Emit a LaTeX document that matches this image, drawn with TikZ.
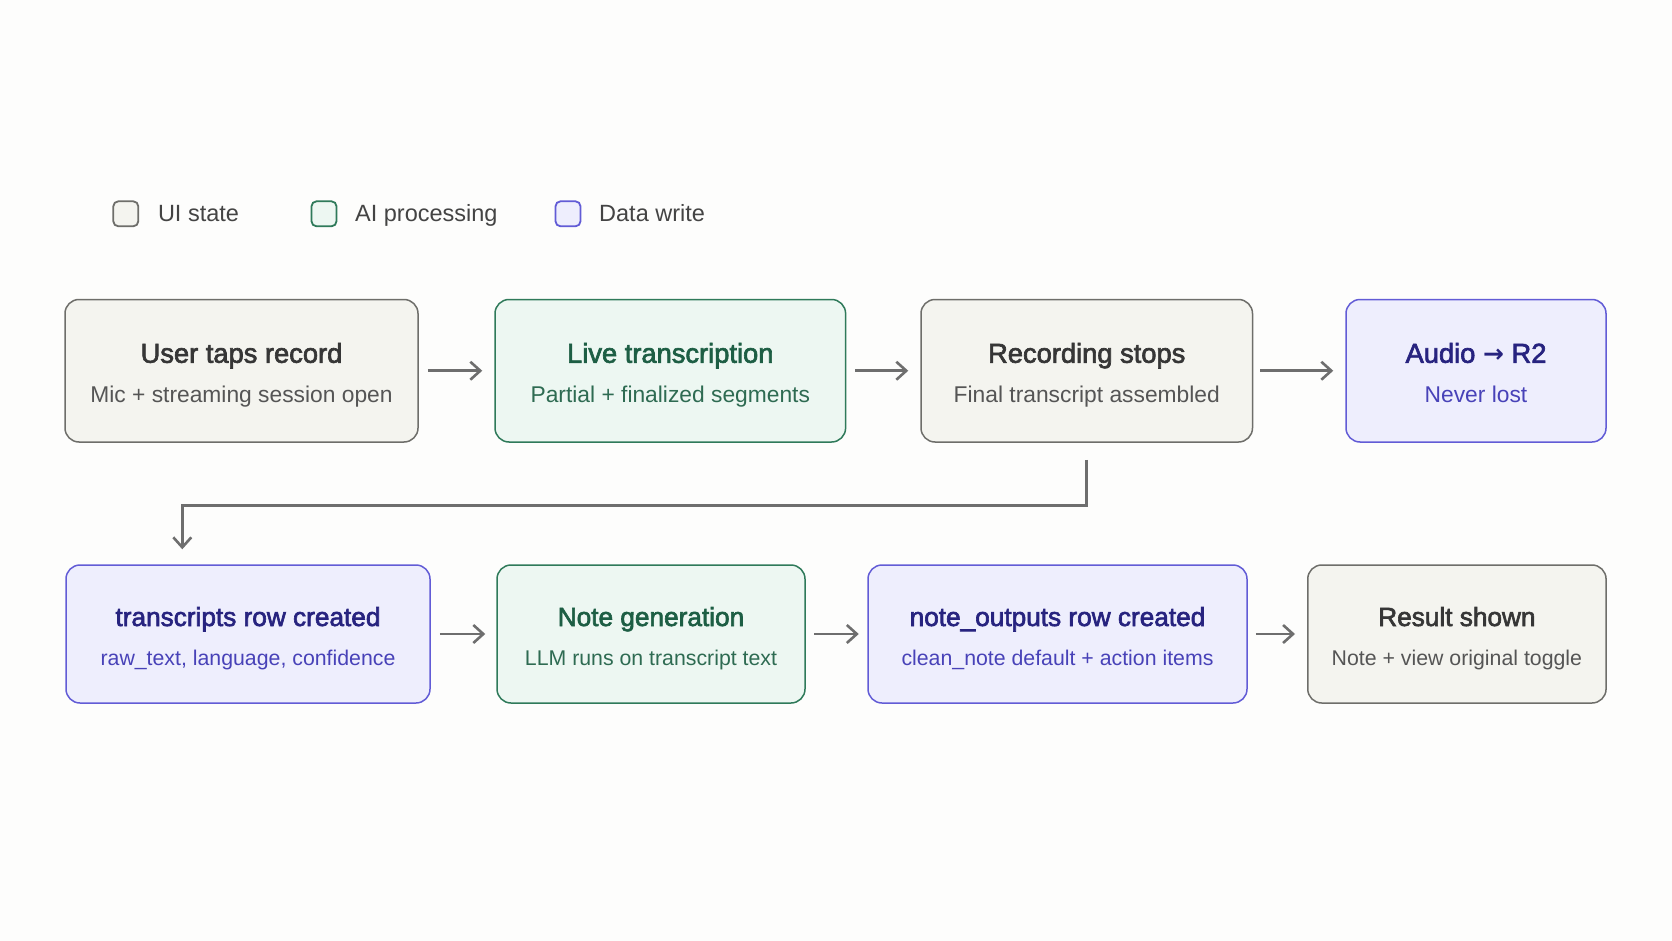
\documentclass[tikz,border=0pt]{standalone}
\usepackage{fontspec}
\setmainfont{Liberation Sans}
\newfontfamily\semib{Liberation Sans}[FakeBold=2.4]
\newfontfamily\arrowfont{DejaVu Sans}
\usetikzlibrary{arrows.meta,calc}
\definecolor{bgc}{HTML}{FDFDFC}
\definecolor{uiF}{HTML}{F4F4EF}
\definecolor{uiL}{HTML}{6E6E6A}
\definecolor{uiT}{HTML}{363636}
\definecolor{uiS}{HTML}{555555}
\definecolor{aiF}{HTML}{EDF7F2}
\definecolor{aiL}{HTML}{2F7A5A}
\definecolor{aiT}{HTML}{1D5E44}
\definecolor{aiS}{HTML}{2E6B52}
\definecolor{dwF}{HTML}{EEEEFD}
\definecolor{dwL}{HTML}{625CD6}
\definecolor{dwT}{HTML}{27237F}
\definecolor{dwS}{HTML}{4842B8}
\definecolor{arrc}{HTML}{6E6E6E}
\definecolor{legT}{HTML}{444444}
\newcommand\flowbox[9]{%
  \node[#2box, minimum width=#5, minimum height=#6] (#1) at (#3,#4) {};
  \node[#2ttl, #9ttl] (#1t) at ($(#1.center)+(0,-8)$) {#7};
  \node[#2sub, #9sub] (#1s) at ($(#1.center)+(0,31.5)$) {#8};
}
\begin{document}
\begin{tikzpicture}[x=1pt,y=-1pt,
  box/.style={draw, rounded corners=14pt, line width=1.5pt, inner sep=0pt},
  uibox/.style={box, fill=uiF, draw=uiL},
  aibox/.style={box, fill=aiF, draw=aiL},
  dwbox/.style={box, fill=dwF, draw=dwL},
  ttl/.style={anchor=base, inner sep=0pt},
  sub/.style={anchor=base, inner sep=0pt},
  rowAttl/.style={font=\fontsize{27.3}{30}\selectfont\semib},
  rowAsub/.style={font=\fontsize{22.8}{26}\selectfont},
  rowBttl/.style={font=\fontsize{26.2}{30}\selectfont\semib},
  rowBsub/.style={font=\fontsize{21.3}{26}\selectfont},
  uittl/.style={ttl, text=uiT}, uisub/.style={sub, text=uiS},
  aittl/.style={ttl, text=aiT}, aisub/.style={sub, text=aiS},
  dwttl/.style={ttl, text=dwT}, dwsub/.style={sub, text=dwS},
  legsq/.style={draw, minimum size=25pt, inner sep=0pt, rounded corners=5pt, line width=1.8pt},
  legtxt/.style={anchor=base west, inner sep=0pt, text=legT, font=\fontsize{23.5}{28}\selectfont},
  arr/.style={draw=arrc, line width=2.6pt, -{Straight Barb[length=10pt,width=18pt]}},
  ]
\useasboundingbox[fill=bgc] (0,0) rectangle (1672,941);

% legend
\node[legsq, fill=uiF, draw=uiL] (lui) at (125.8,213.8) {};
\node[legtxt] (luit) at (157.8,222) {UI state};
\node[legsq, fill=aiF, draw=aiL] (lai) at (324,213.8) {};
\node[legtxt] (lait) at (355,222) {AI processing};
\node[legsq, fill=dwF, draw=dwL] (ldw) at (568,213.8) {};
\node[legtxt] (ldwt) at (599,222) {Data write};

% row 1
\flowbox{b1}{ui}{241.5}{370.75}{353}{142.5}{User taps record}{Mic + streaming session open}{rowA}
\flowbox{b2}{ai}{670.3}{370.75}{350.6}{142.5}{Live transcription}{Partial + finalized segments}{rowA}
\flowbox{b3}{ui}{1086.75}{370.75}{331.5}{142.5}{Recording stops}{Final transcript assembled}{rowA}
\flowbox{b4}{dw}{1476}{370.75}{260}{142.5}{Audio {\arrowfont\bfseries\fontsize{25}{26}\selectfont→} R2}{Never lost}{rowA}

% row 2
\flowbox{b5}{dw}{248}{634}{364}{138}{transcripts row created}{raw\_text, language, confidence}{rowB}
\flowbox{b6}{ai}{651}{634}{308}{138}{Note generation}{LLM runs on transcript text}{rowB}
\flowbox{b7}{dw}{1057.5}{634}{379}{138}{note\_outputs row created}{clean\_note default + action items}{rowB}
\flowbox{b8}{ui}{1456.9}{634}{298.3}{138}{Result shown}{Note + view original toggle}{rowB}

% connectors
\draw[arr, shorten <=9pt, shorten >=12pt] (b1) -- (b2);
\draw[arr, shorten <=9pt, shorten >=12pt] (b2) -- (b3);
\draw[arr, shorten <=7pt, shorten >=12pt] (b3) -- (b4);
\draw[arr, shorten <=9pt, shorten >=11pt] (b5) -- (b6);
\draw[arr, shorten <=8.5pt, shorten >=8.5pt] (b6) -- (b7);
\draw[arr, shorten <=8pt, shorten >=12pt] (b7) -- (b8);
\coordinate (bend) at (182.3,505.7);
\draw[arr, shorten <=17pt, shorten >=15pt] (b3.south) |- (bend) -- (bend |- b5.north);
\end{tikzpicture}
\end{document}
